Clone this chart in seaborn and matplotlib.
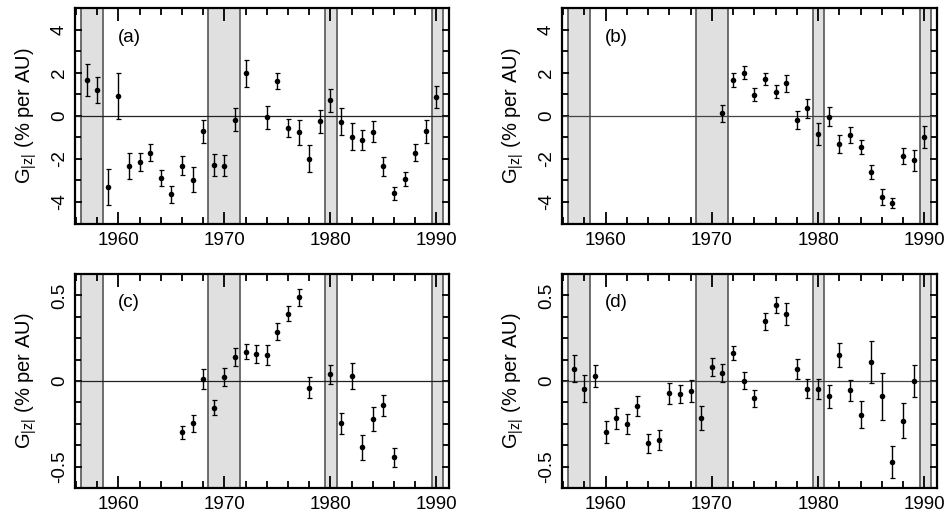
import numpy as np
import pandas as pd
import matplotlib
matplotlib.use("Agg")
import matplotlib.pyplot as plt
import seaborn as sns

# ---------------- data ----------------
years_a = [1957, 1958, 1959, 1960, 1961, 1962, 1963, 1964, 1965, 1966, 1967, 1968,
           1969, 1970, 1971, 1972, 1974, 1975, 1976, 1977, 1978, 1979, 1980, 1981,
           1982, 1983, 1984, 1985, 1986, 1987, 1988, 1989, 1990]
g_a = [1.66, 1.20, -3.31, 0.92, -2.35, -2.15, -1.71, -2.89, -3.65, -2.31, -2.97, -0.72,
       -2.28, -2.31, -0.18, 1.97, -0.08, 1.62, -0.58, -0.77, -2.00, -0.26, 0.71, -0.28,
       -0.97, -1.12, -0.74, -2.35, -3.60, -2.94, -1.71, -0.72, 0.89]
err_a = [0.75, 0.62, 0.85, 1.05, 0.60, 0.40, 0.40, 0.37, 0.39, 0.46, 0.58, 0.54,
         0.50, 0.49, 0.55, 0.62, 0.52, 0.38, 0.42, 0.57, 0.62, 0.54, 0.55, 0.62,
         0.62, 0.46, 0.48, 0.45, 0.30, 0.31, 0.40, 0.54, 0.51]

years_b = [1971, 1972, 1973, 1974, 1975, 1976, 1977, 1978, 1979, 1980, 1981, 1982,
           1983, 1984, 1985, 1986, 1987, 1988, 1989, 1990]
g_b = [0.11, 1.66, 2.00, 0.98, 1.71, 1.12, 1.50, -0.20, 0.34, -0.84, -0.05, -1.32,
       -0.91, -1.44, -2.62, -3.77, -4.06, -1.86, -2.06, -0.99]
err_b = [0.38, 0.31, 0.30, 0.30, 0.29, 0.29, 0.38, 0.43, 0.43, 0.50, 0.44, 0.42,
         0.37, 0.33, 0.33, 0.35, 0.23, 0.36, 0.49, 0.50]

years_c = [1966, 1967, 1968, 1969, 1970, 1971, 1972, 1973, 1974, 1975, 1976, 1977,
           1978, 1980, 1981, 1982, 1983, 1984, 1985, 1986]
g_c = [-0.300, -0.246, 0.014, -0.155, 0.021, 0.140, 0.172, 0.159, 0.153, 0.289, 0.393, 0.488,
       -0.039, 0.039, -0.248, 0.029, -0.388, -0.221, -0.143, -0.446]
err_c = [0.039, 0.050, 0.058, 0.045, 0.053, 0.051, 0.044, 0.052, 0.057, 0.052, 0.043, 0.052,
         0.063, 0.054, 0.064, 0.074, 0.074, 0.069, 0.064, 0.057]

years_d = [1957, 1958, 1959, 1960, 1961, 1962, 1963, 1964, 1965, 1966, 1967, 1968,
           1969, 1970, 1971, 1972, 1973, 1974, 1975, 1976, 1977, 1978, 1979, 1980,
           1981, 1982, 1983, 1984, 1985, 1986, 1987, 1988, 1989]
g_d = [0.073, -0.045, 0.031, -0.298, -0.218, -0.251, -0.145, -0.365, -0.345, -0.071, -0.076, -0.059,
       -0.216, 0.082, 0.047, 0.165, 0.002, -0.102, 0.349, 0.443, 0.392, 0.071, -0.045, -0.047,
       -0.090, 0.151, -0.055, -0.198, 0.112, -0.088, -0.473, -0.233, 0.000]
err_d = [0.081, 0.078, 0.064, 0.066, 0.061, 0.059, 0.058, 0.054, 0.059, 0.062, 0.054, 0.062,
         0.068, 0.051, 0.053, 0.041, 0.050, 0.050, 0.050, 0.047, 0.062, 0.058, 0.057, 0.059,
         0.068, 0.071, 0.061, 0.079, 0.124, 0.137, 0.092, 0.102, 0.094]

bands = [(1956.5, 1958.5), (1968.5, 1971.5), (1979.5, 1980.6), (1989.6, 1990.6)]
panel_labels = ["(a)", "(b)", "(c)", "(d)"]
x_ticklabels = [1960, 1970, 1980, 1990]

# ---------------- style ----------------
sns.set_theme(style="ticks")
plt.rcParams['font.family'] = ['Liberation Sans', 'DejaVu Sans']
plt.rcParams['mathtext.fontset'] = 'custom'
plt.rcParams['mathtext.rm'] = 'Liberation Sans'
plt.rcParams['mathtext.it'] = 'Liberation Sans:italic'
for key in ['text.color', 'axes.labelcolor', 'xtick.color', 'ytick.color',
            'xtick.labelcolor', 'ytick.labelcolor']:
    plt.rcParams[key] = 'black'

fig = plt.figure(figsize=(9.49, 5.16), dpi=100)
W, H = 949, 516
positions = [
    [75 / W, 1 - 223.5 / H, 374 / W, 215.5 / H],
    [562 / W, 1 - 223.5 / H, 375 / W, 215.5 / H],
    [75 / W, 1 - 488 / H, 374 / W, 214 / H],
    [562 / W, 1 - 488 / H, 375 / W, 214 / H],
]
datasets = [(years_a, g_a, err_a), (years_b, g_b, err_b),
            (years_c, g_c, err_c), (years_d, g_d, err_d)]

for i, (pos, (yrs, g, e)) in enumerate(zip(positions, datasets)):
    ax = fig.add_axes(pos)
    df = pd.DataFrame({"year": yrs, "G": g, "err": e})
    for (b0, b1) in bands:
        ax.axvspan(b0, b1, facecolor='#e0e0e0', edgecolor='#555555', lw=1.2, zorder=0)
    ax.axhline(0, color='#222222' if i % 2 == 0 else '#444444', lw=0.9, zorder=1)
    ax.errorbar(df["year"], df["G"], yerr=df["err"], fmt='none', ecolor='black',
                elinewidth=1.0, capsize=1.8, capthick=0.9, zorder=2)
    sns.scatterplot(data=df, x="year", y="G", ax=ax, color='black', s=16,
                    edgecolor='black', linewidth=0, zorder=3, legend=False)
    ax.set_xlim(1955.9, 1991.2)
    ax.set_xticks(x_ticklabels)
    ax.set_xticklabels([str(t) for t in x_ticklabels])
    ax.set_xticks(np.arange(1956, 1992, 2), minor=True)
    if i < 2:
        ax.set_ylim(-5, 5)
        ax.set_yticks([-4, -2, 0, 2, 4])
        ax.set_yticklabels(['-4', '-2', '0', '2', '4'])
        ax.set_yticks(np.arange(-5, 5.01, 1), minor=True)
    else:
        ax.set_ylim(-0.625, 0.625)
        ax.set_yticks([-0.5, 0, 0.5])
        ax.set_yticklabels(['-0.5', '0', '0.5'])
        ax.set_yticks(np.arange(-0.625, 0.626, 0.125), minor=True)
    ax.tick_params(axis='both', which='both', direction='in', top=True, right=True,
                   width=1.3, color='black')
    ax.tick_params(axis='x', which='major', length=9, labelsize=13.5, pad=6)
    ax.tick_params(axis='x', which='minor', length=5)
    ax.tick_params(axis='y', which='major', length=5, labelsize=13.5, pad=5)
    ax.tick_params(axis='y', which='minor', length=4)
    for lab in ax.get_yticklabels():
        lab.set_rotation(90)
        lab.set_va('center')
    for sp in ax.spines.values():
        sp.set_linewidth(1.6)
        sp.set_color('black')
    ax.set_xlabel('')
    ax.set_ylabel(r'G$_{\mathrm{|z|}}$ (% per AU)', fontsize=14.5)
    ax.yaxis.set_label_coords(-0.095, 0.5)
    ax.text(0.115, 0.865, panel_labels[i], transform=ax.transAxes, fontsize=13.5,
            ha='left', va='center')

fig.savefig("out.png", dpi=100)
